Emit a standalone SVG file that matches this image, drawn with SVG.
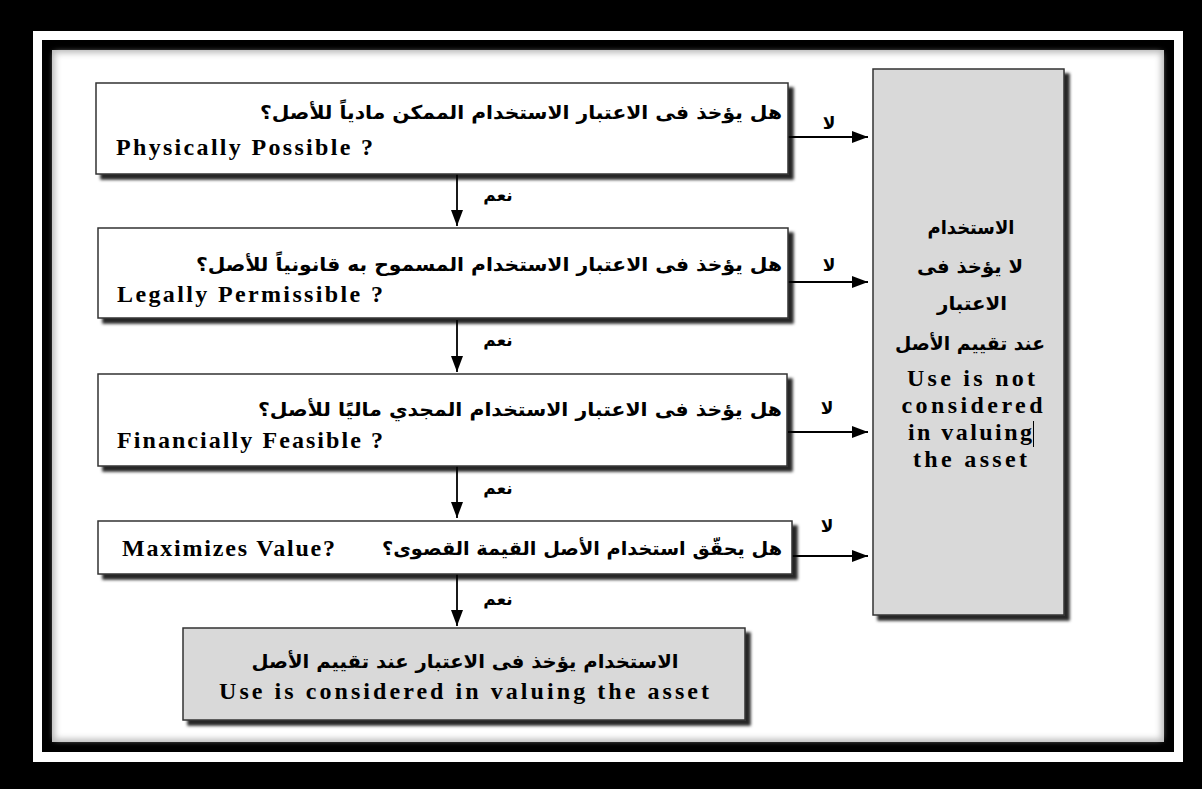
<svg xmlns="http://www.w3.org/2000/svg" width="1202" height="789" viewBox="0 0 1202 789">
<style>
.box{fill:#fff;stroke:#333;stroke-width:1.5}
.grey{fill:#d9d9d9;stroke:#333;stroke-width:1.5}
.ar{font-family:"DejaVu Sans","Noto Sans",sans-serif;font-weight:bold;font-size:19px;fill:#000}
.en{font-family:"Liberation Serif","Times New Roman",serif;font-weight:bold;font-size:24px;fill:#000}
.lbl{font-family:"DejaVu Sans",sans-serif;font-weight:bold;font-size:17px;fill:#000}
.conn{stroke:#000;stroke-width:1.8;fill:none}
</style>
<defs>
<filter id="sh" x="-10%" y="-10%" width="130%" height="130%">
<feDropShadow dx="5" dy="5" stdDeviation="1.5" flood-color="#000" flood-opacity="0.85"/>
</filter>
<filter id="inner" x="-5%" y="-5%" width="110%" height="110%">
<feGaussianBlur stdDeviation="3"/>
</filter>
<marker id="ahh" viewBox="0 0 16 12" refX="16" refY="6" markerWidth="16" markerHeight="12" markerUnits="userSpaceOnUse" orient="auto">
<path d="M0,0 L16,6 L0,12 z" fill="#000"/>
</marker>
</defs>
<rect x="0" y="0" width="1202" height="789" fill="#000"/>
<rect x="33" y="31" width="1150" height="731" fill="#fff"/>
<rect x="42" y="40" width="1132" height="712" fill="#000"/>
<rect x="52" y="50" width="1112" height="692" fill="#bbb"/>
<rect x="55" y="53" width="1106" height="686" fill="#fff" filter="url(#inner)"/>

<g id="connectors">
<line class="conn" x1="457" y1="174" x2="457" y2="226" marker-end="url(#ahh)"/>
<line class="conn" x1="457" y1="320" x2="457" y2="372" marker-end="url(#ahh)"/>
<line class="conn" x1="457" y1="466" x2="457" y2="518" marker-end="url(#ahh)"/>
<line class="conn" x1="457" y1="574" x2="457" y2="626" marker-end="url(#ahh)"/>
<line class="conn" x1="788" y1="137" x2="868" y2="137" marker-end="url(#ahh)"/>
<line class="conn" x1="788" y1="282" x2="868" y2="282" marker-end="url(#ahh)"/>
<line class="conn" x1="788" y1="432" x2="868" y2="432" marker-end="url(#ahh)"/>
<line class="conn" x1="792" y1="556" x2="868" y2="556" marker-end="url(#ahh)"/>
<text class="lbl" x="498" y="201" text-anchor="middle">نعم</text>
<text class="lbl" x="498" y="346" text-anchor="middle">نعم</text>
<text class="lbl" x="498" y="494" text-anchor="middle">نعم</text>
<text class="lbl" x="498" y="605" text-anchor="middle">نعم</text>
<text class="lbl" x="829" y="129" text-anchor="middle">لا</text>
<text class="lbl" x="829" y="271" text-anchor="middle">لا</text>
<text class="lbl" x="827" y="414" text-anchor="middle">لا</text>
<text class="lbl" x="827" y="532" text-anchor="middle">لا</text>
</g>

<g id="q1">
<rect class="box" x="96" y="83" width="692" height="91" filter="url(#sh)"/>
<text class="ar" x="782" y="119" text-anchor="start" direction="rtl" textLength="522" lengthAdjust="spacingAndGlyphs">هل يؤخذ فى الاعتبار الاستخدام الممكن مادياً للأصل؟</text>
<text class="en" x="116" y="155" textLength="257" lengthAdjust="spacing">Physically Possible ?</text>
</g>
<g id="q2">
<rect class="box" x="98" y="228" width="690" height="90" filter="url(#sh)"/>
<text class="ar" x="782" y="271" text-anchor="start" direction="rtl" textLength="586" lengthAdjust="spacingAndGlyphs">هل يؤخذ فى الاعتبار الاستخدام المسموح به قانونياً للأصل؟</text>
<text class="en" x="117" y="302" textLength="266" lengthAdjust="spacing">Legally Permissible ?</text>
</g>
<g id="q3">
<rect class="box" x="98" y="374" width="689" height="92" filter="url(#sh)"/>
<text class="ar" x="782" y="416" text-anchor="start" direction="rtl" textLength="524" lengthAdjust="spacingAndGlyphs">هل يؤخذ فى الاعتبار الاستخدام المجدي ماليًا للأصل؟</text>
<text class="en" x="117" y="448" textLength="266" lengthAdjust="spacing">Financially Feasible ?</text>
</g>
<g id="q4">
<rect class="box" x="98" y="521" width="694" height="53" filter="url(#sh)"/>
<text class="ar" x="782" y="555" text-anchor="start" direction="rtl" textLength="400" lengthAdjust="spacingAndGlyphs">هل يحقّق استخدام الأصل القيمة القصوى؟</text>
<text class="en" x="122" y="556" textLength="213" lengthAdjust="spacing">Maximizes Value?</text>
</g>
<g id="not-considered">
<rect class="grey" x="873" y="69" width="191" height="546" filter="url(#sh)"/>
<text class="ar" x="971" y="234" text-anchor="middle" direction="rtl" textLength="87" lengthAdjust="spacingAndGlyphs">الاستخدام</text>
<text class="ar" x="970" y="273" text-anchor="middle" direction="rtl" textLength="106" lengthAdjust="spacingAndGlyphs">لا يؤخذ فى</text>
<text class="ar" x="972" y="310" text-anchor="middle" direction="rtl" textLength="70" lengthAdjust="spacingAndGlyphs">الاعتبار</text>
<text class="ar" x="970" y="350" text-anchor="middle" direction="rtl" textLength="150" lengthAdjust="spacingAndGlyphs">عند تقييم الأصل</text>
<text class="en" x="971" y="386" text-anchor="middle" textLength="128" lengthAdjust="spacing">Use is not</text>
<text class="en" x="972" y="413" text-anchor="middle" textLength="141" lengthAdjust="spacing">considered</text>
<text class="en" x="970" y="440" text-anchor="middle" textLength="124" lengthAdjust="spacing">in valuing</text>
<text class="en" x="970" y="467" text-anchor="middle" textLength="114" lengthAdjust="spacing">the asset</text>
<line x1="1033.5" y1="421" x2="1033.5" y2="447" stroke="#000" stroke-width="1"/>
</g>
<g id="considered">
<rect class="grey" x="183" y="628" width="562" height="92" filter="url(#sh)"/>
<text class="ar" x="465" y="668" text-anchor="middle" direction="rtl" textLength="427" lengthAdjust="spacingAndGlyphs">الاستخدام يؤخذ فى الاعتبار عند تقييم الأصل</text>
<text class="en" x="464" y="699" text-anchor="middle" textLength="490" lengthAdjust="spacing">Use is considered in valuing the asset</text>
</g>
</svg>
